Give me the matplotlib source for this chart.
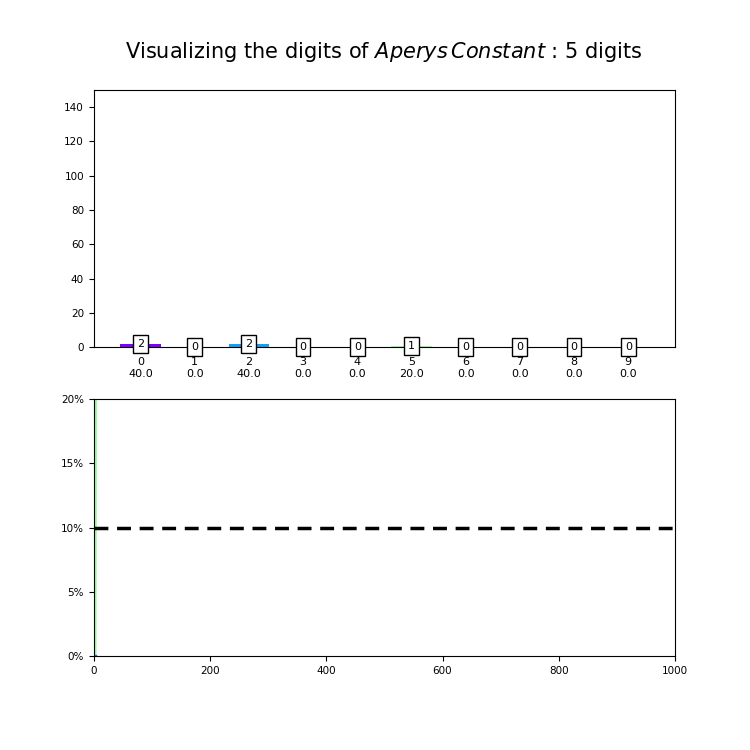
import numpy as np
import matplotlib
matplotlib.use("Agg")
import matplotlib.pyplot as plt
from matplotlib import cm
from matplotlib.ticker import PercentFormatter

# first 5 decimals of Apery's constant (1.20205...)
digit_seq = [2, 0, 2, 0, 5]
categories = list(range(10))
counts = [2, 0, 2, 0, 0, 1, 0, 0, 0, 0]
percents = [40.0, 0.0, 40.0, 0.0, 0.0, 20.0, 0.0, 0.0, 0.0, 0.0]

colors = [cm.rainbow(i / 9) for i in categories]

fig, (ax1, ax2) = plt.subplots(2, 1, figsize=(7.5, 7.5), dpi=100)
fig.subplots_adjust(bottom=0.125, hspace=0.2)
fig.suptitle(r"Visualizing the digits of $Aperys\,Constant$ : %d digits" % len(digit_seq),
             fontsize=15, x=0.5113, y=0.931, va="center")

ax1.bar(categories, counts, width=0.75, color=colors)
for c, n in zip(categories, counts):
    ax1.text(c, n, str(n), ha="center", va="center", fontsize=8,
             bbox=dict(boxstyle="square,pad=0.35", fc="white", ec="black"))
ax1.set_ylim(0, 150)
ax1.set_xticks(categories)
ax1.set_xticklabels([f"{c}\n{p}" for c, p in zip(categories, percents)])
ax1.tick_params(axis="x", labelsize=8)
ax1.tick_params(axis="y", labelsize=7.5)

# running frequency of every digit
seq = np.array(digit_seq)
steps = np.arange(len(seq))
for d in reversed(categories):
    freq = np.cumsum(seq == d) / (steps + 1)
    ax2.plot(steps, freq, color=colors[d], lw=1.5)
ax2.axhline(0.1, color="black", ls="--", lw=2.5, dashes=(4, 2.5))
ax2.set_xlim(0, 1000)
ax2.set_ylim(0, 0.2)
ax2.set_yticks([0, 0.05, 0.1, 0.15, 0.2])
ax2.yaxis.set_major_formatter(PercentFormatter(1.0, decimals=0))
ax2.tick_params(labelsize=7.5)

fig.savefig("out.png")
